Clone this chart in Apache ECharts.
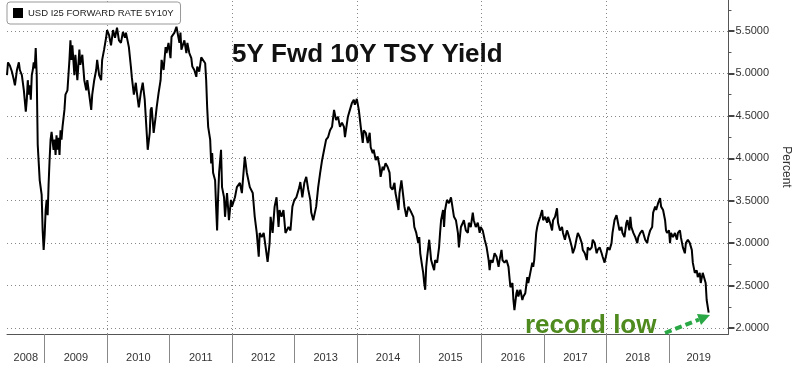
<!DOCTYPE html>
<html><head><meta charset="utf-8">
<script src="https://cdn.jsdelivr.net/npm/echarts@6/dist/echarts.min.js"></script>
<style>html,body{margin:0;padding:0;background:#fff}#c{width:800px;height:366px}</style>
</head><body><div id="c"></div>
<script>
const seriesName = 'USD I25 FORWARD RATE 5Y10Y';
const chartTitle = '5Y Fwd 10Y TSY Yield';
const noteText = 'record low';

// dates as decimal years
const dates = [
2008.397,2008.413,2008.444,2008.476,2008.508,2008.524,2008.556,2008.587,2008.603,2008.635,2008.667,2008.698,2008.714,2008.730,2008.746,2008.762,2008.778,2008.794,2008.810,2008.825,2008.841,2008.857,2008.873,2008.889,2008.921,2008.952,2008.968,2008.984,
2009.000,2009.016,2009.032,2009.048,2009.063,2009.079,2009.095,2009.111,2009.143,2009.159,2009.175,2009.190,2009.206,2009.222,2009.238,2009.254,2009.270,2009.286,2009.317,2009.333,2009.365,2009.397,2009.413,2009.429,2009.444,2009.476,2009.492,2009.524,2009.540,2009.556,2009.571,2009.603,2009.635,2009.667,2009.683,2009.714,2009.746,2009.762,2009.794,2009.825,2009.841,2009.873,2009.905,2009.921,2009.952,2009.984,
2010.000,2010.032,2010.063,2010.095,2010.127,2010.159,2010.190,2010.222,2010.254,2010.286,2010.302,2010.349,2010.381,2010.397,2010.429,2010.460,2010.476,2010.508,2010.540,2010.571,2010.603,2010.619,2010.651,2010.683,2010.698,2010.714,2010.746,2010.778,2010.794,2010.825,2010.857,2010.873,2010.905,2010.937,2010.952,2010.984,
2011.016,2011.032,2011.079,2011.111,2011.159,2011.175,2011.190,2011.238,2011.270,2011.286,2011.317,2011.349,2011.365,2011.397,2011.429,2011.444,2011.476,2011.508,2011.540,2011.571,2011.587,2011.603,2011.619,2011.651,2011.667,2011.683,2011.698,2011.730,2011.746,2011.762,2011.778,2011.794,2011.825,2011.841,2011.873,2011.889,2011.921,2011.952,2011.984,
2012.000,2012.048,2012.079,2012.127,2012.159,2012.175,2012.206,2012.238,2012.286,2012.333,2012.365,2012.397,2012.429,2012.444,2012.476,2012.508,2012.540,2012.571,2012.603,2012.619,2012.651,2012.683,2012.714,2012.746,2012.762,2012.794,2012.825,2012.857,2012.905,2012.937,2012.968,
2013.000,2013.032,2013.079,2013.095,2013.127,2013.159,2013.190,2013.222,2013.254,2013.270,2013.302,2013.333,2013.349,2013.381,2013.413,2013.444,2013.476,2013.508,2013.540,2013.571,2013.603,2013.635,2013.667,2013.698,2013.730,2013.762,2013.794,2013.810,2013.857,2013.889,2013.921,2013.952,2013.968,
2014.000,2014.032,2014.063,2014.095,2014.111,2014.143,2014.175,2014.206,2014.222,2014.254,2014.270,2014.302,2014.333,2014.365,2014.381,2014.413,2014.429,2014.460,2014.492,2014.524,2014.540,2014.571,2014.603,2014.619,2014.651,2014.667,2014.683,2014.714,2014.746,2014.762,2014.794,2014.825,2014.841,2014.873,2014.905,2014.921,2014.952,2014.984,
2015.000,2015.016,2015.048,2015.063,2015.079,2015.095,2015.111,2015.127,2015.159,2015.175,2015.190,2015.222,2015.238,2015.254,2015.286,2015.317,2015.333,2015.349,2015.381,2015.397,2015.413,2015.444,2015.476,2015.508,2015.540,2015.556,2015.587,2015.619,2015.635,2015.667,2015.698,2015.714,2015.746,2015.778,2015.794,2015.825,2015.857,2015.873,2015.905,2015.937,2015.968,2015.984,
2016.016,2016.048,2016.079,2016.111,2016.127,2016.143,2016.175,2016.206,2016.238,2016.270,2016.286,2016.317,2016.333,2016.365,2016.397,2016.429,2016.444,2016.460,2016.492,2016.508,2016.524,2016.556,2016.571,2016.587,2016.619,2016.651,2016.667,2016.698,2016.730,2016.746,2016.778,2016.810,2016.825,2016.841,2016.873,2016.889,2016.905,2016.937,2016.968,2016.984,
2017.016,2017.048,2017.063,2017.095,2017.127,2017.143,2017.175,2017.206,2017.222,2017.254,2017.286,2017.302,2017.333,2017.365,2017.381,2017.413,2017.444,2017.460,2017.492,2017.524,2017.540,2017.571,2017.603,2017.619,2017.651,2017.683,2017.698,2017.730,2017.762,2017.778,2017.810,2017.841,2017.857,2017.889,2017.921,2017.937,2017.968,
2018.000,2018.016,2018.048,2018.079,2018.095,2018.127,2018.159,2018.175,2018.206,2018.238,2018.254,2018.286,2018.317,2018.333,2018.365,2018.381,2018.397,2018.429,2018.460,2018.492,2018.508,2018.540,2018.571,2018.587,2018.619,2018.651,2018.667,2018.698,2018.730,2018.746,2018.778,2018.794,2018.825,2018.857,2018.873,2018.905,2018.937,2018.952,2018.968,
2019.000,2019.016,2019.032,2019.063,2019.095,2019.127,2019.143,2019.175,2019.190,2019.222,2019.254,2019.270,2019.302,2019.333,2019.365,2019.381,2019.413,2019.444,2019.460,2019.492,2019.508,2019.540,2019.571,2019.587,2019.603,2019.635
];

// 5y10y forward rate, percent
const yields = [
4.98,5.13,5.09,5.02,4.92,4.86,5.04,5.13,5.04,4.98,4.80,4.55,4.69,4.92,4.75,4.86,4.69,4.98,5.04,5.13,5.06,5.30,4.98,4.16,3.74,3.57,3.15,2.92,
3.10,3.39,3.51,3.33,3.69,3.98,4.22,4.31,4.10,4.22,4.04,4.27,4.10,4.24,4.04,4.33,4.22,4.37,4.57,4.75,4.80,5.16,5.39,5.16,5.33,4.98,5.22,4.92,5.10,5.28,5.10,5.22,4.92,4.80,4.92,4.75,4.57,4.75,4.92,5.04,5.16,4.98,4.92,5.16,5.28,5.42,
5.51,5.45,5.33,5.51,5.42,5.54,5.39,5.36,5.49,5.42,5.48,5.31,5.08,4.95,4.75,4.89,4.78,4.60,4.77,4.89,4.69,4.49,4.10,4.30,4.57,4.60,4.30,4.49,4.60,4.77,4.92,5.16,5.04,5.31,5.24,5.36,
5.18,5.43,5.48,5.55,5.36,5.48,5.28,5.39,5.24,5.36,5.24,5.18,5.08,5.04,4.96,5.08,5.02,5.19,5.18,5.12,4.92,4.60,4.37,4.22,3.94,4.06,3.83,3.74,3.43,3.15,3.54,3.83,4.10,3.66,3.54,3.31,3.59,3.27,3.51,
3.43,3.54,3.66,3.71,3.59,3.74,4.02,3.83,3.66,3.59,3.31,3.12,2.84,3.12,3.07,3.12,2.95,2.78,3.00,3.31,3.12,3.43,3.54,3.19,3.39,3.31,3.39,3.12,3.19,3.15,3.43,
3.51,3.54,3.66,3.72,3.54,3.71,3.78,3.63,3.51,3.36,3.27,3.25,3.43,3.66,3.83,3.98,4.10,4.22,4.25,4.33,4.37,4.57,4.45,4.49,4.37,4.42,4.37,4.25,4.49,4.57,4.65,4.69,4.63,
4.70,4.57,4.37,4.18,4.33,4.30,4.18,4.30,4.13,4.06,4.10,3.98,4.02,3.90,3.78,3.90,3.86,3.94,3.90,3.83,3.66,3.63,3.71,3.59,3.47,3.39,3.59,3.74,3.54,3.43,3.31,3.43,3.41,3.36,3.31,3.19,3.12,3.00,
3.07,2.88,2.72,2.65,2.53,2.45,2.72,2.84,3.04,2.92,2.80,2.72,2.68,2.80,2.77,2.95,3.12,3.27,3.39,3.19,3.39,3.51,3.47,3.54,3.54,3.31,3.27,3.12,2.95,3.19,3.24,3.27,3.15,3.12,3.24,3.19,3.36,3.27,3.19,3.24,3.12,3.19,
3.15,3.04,2.95,2.80,2.68,2.80,2.77,2.88,2.84,2.72,2.80,2.92,2.80,2.77,2.80,2.72,2.60,2.48,2.53,2.33,2.21,2.41,2.45,2.37,2.45,2.33,2.37,2.41,2.60,2.53,2.65,2.77,2.72,2.80,3.12,3.19,3.24,3.31,3.39,3.27,
3.31,3.24,3.31,3.24,3.15,3.27,3.31,3.41,3.24,3.15,3.19,3.12,3.04,3.15,3.12,3.04,2.95,2.88,2.95,3.07,3.12,3.07,3.00,2.92,2.88,2.80,2.95,2.92,2.95,3.04,3.00,2.88,2.92,2.95,2.88,2.84,2.77,
2.88,2.95,2.92,3.00,3.12,3.27,3.33,3.27,3.15,3.19,3.12,3.07,3.24,3.27,3.15,3.31,3.19,3.12,3.07,3.00,3.07,3.12,3.15,3.12,3.04,3.00,3.07,3.15,3.19,3.36,3.43,3.39,3.47,3.53,3.43,3.39,3.27,3.15,3.12,
3.15,3.00,3.12,3.07,3.12,3.04,3.12,3.15,3.07,2.95,2.88,3.00,3.04,3.00,2.92,2.77,2.65,2.68,2.60,2.65,2.53,2.65,2.63,2.53,2.33,2.18
];

const yearLabels = [2008,2009,2010,2011,2012,2013,2014,2015,2016,2017,2018,2019];
const yTicks = [2.0,2.5,3.0,3.5,4.0,4.5,5.0,5.5];
const yMinorTicks = [2.25,2.75,3.25,3.75,4.25,4.75,5.25,5.75];
const gridYears = [2010,2012,2014,2016,2018];
const xMin = 2008.397, xMax = 2019.952;
const yMin = 1.929, yMax = 5.865;

const yearBounds = yearLabels.slice(1);
const yearCenters = yearLabels.map(y => (Math.max(y, xMin) + Math.min(y + 1, xMax)) / 2);
const FONT = 'Liberation Sans';

const chart = echarts.init(document.getElementById('c'), null, {renderer: 'canvas'});
chart.setOption({
  animation: false,
  backgroundColor: '#fff',
  textStyle: {fontFamily: FONT},
  grid: {left: 7, right: 65, top: 0, bottom: 32, containLabel: false},
  legend: {
    left: 7, top: 2, padding: [6, 7, 6, 6],
    itemWidth: 10, itemHeight: 10,
    borderColor: '#999', borderWidth: 1, borderRadius: 3, backgroundColor: '#fff',
    textStyle: {fontSize: 9.5, color: '#222', fontFamily: FONT},
    data: [{name: seriesName, icon: 'rect', itemStyle: {color: '#000'}}]
  },
  xAxis: {
    type: 'value', min: xMin, max: xMax,
    axisLine: {show: true, lineStyle: {color: '#555', width: 1}},
    axisTick: {show: true, customValues: yearBounds, length: 29, lineStyle: {color: '#888'}},
    axisLabel: {customValues: yearCenters, formatter: v => String(Math.floor(v)), margin: 18, fontSize: 11, color: '#333', fontFamily: FONT},
    splitLine: {show: false}
  },
  yAxis: [{
    type: 'value', position: 'right', min: yMin, max: yMax,
    axisLine: {show: true, lineStyle: {color: '#555'}},
    axisTick: {show: true, customValues: yTicks, length: 6, lineStyle: {color: '#444', width: 2}},
    axisLabel: {customValues: yTicks, formatter: v => v.toFixed(4), margin: 7, fontSize: 11, color: '#333', fontFamily: FONT},
    splitLine: {show: false},
    name: 'Percent', nameLocation: 'middle', nameGap: 50, nameRotate: -90,
    nameTextStyle: {fontSize: 12, color: '#333', fontFamily: FONT}
  }, {
    type: 'value', position: 'right', min: yMin, max: yMax,
    axisLine: {show: false},
    axisTick: {show: true, customValues: yMinorTicks, length: 3, lineStyle: {color: '#555'}},
    axisLabel: {show: false},
    splitLine: {show: false}
  }],
  series: [{
    type: 'line', name: seriesName,
    data: dates.map((d, i) => [d, yields[i]]),
    showSymbol: false, symbol: 'none',
    lineStyle: {color: '#000', width: 2},
    itemStyle: {color: '#000'},
    z: 3,
    markLine: {
      silent: true, symbol: 'none', z: 1,
      label: {show: false},
      lineStyle: {type: [1, 3], color: '#888', width: 1},
      emphasis: {disabled: true},
      data: gridYears.map(v => ({xAxis: v})).concat(yTicks.map(v => ({yAxis: v})))
    }
  }],
  graphic: [
    {type: 'text', left: 232, top: 42, z: 10,
     style: {text: chartTitle, font: 'bold 26px "Liberation Sans"', fill: '#111'}},
    {type: 'text', left: 525, top: 313, z: 10,
     style: {text: noteText, font: 'bold 26px "Liberation Sans"', fill: '#4f8a1e'}},
    {type: 'line', z: 10, shape: {x1: 665, y1: 333, x2: 699, y2: 319.5},
     style: {stroke: '#2aa845', lineWidth: 4, lineDash: [7, 4]}},
    {type: 'polygon', z: 10, shape: {points: [[710, 315], [701, 325], [697, 314]]},
     style: {fill: '#2aa845'}}
  ]
});
</script>
</body></html>
